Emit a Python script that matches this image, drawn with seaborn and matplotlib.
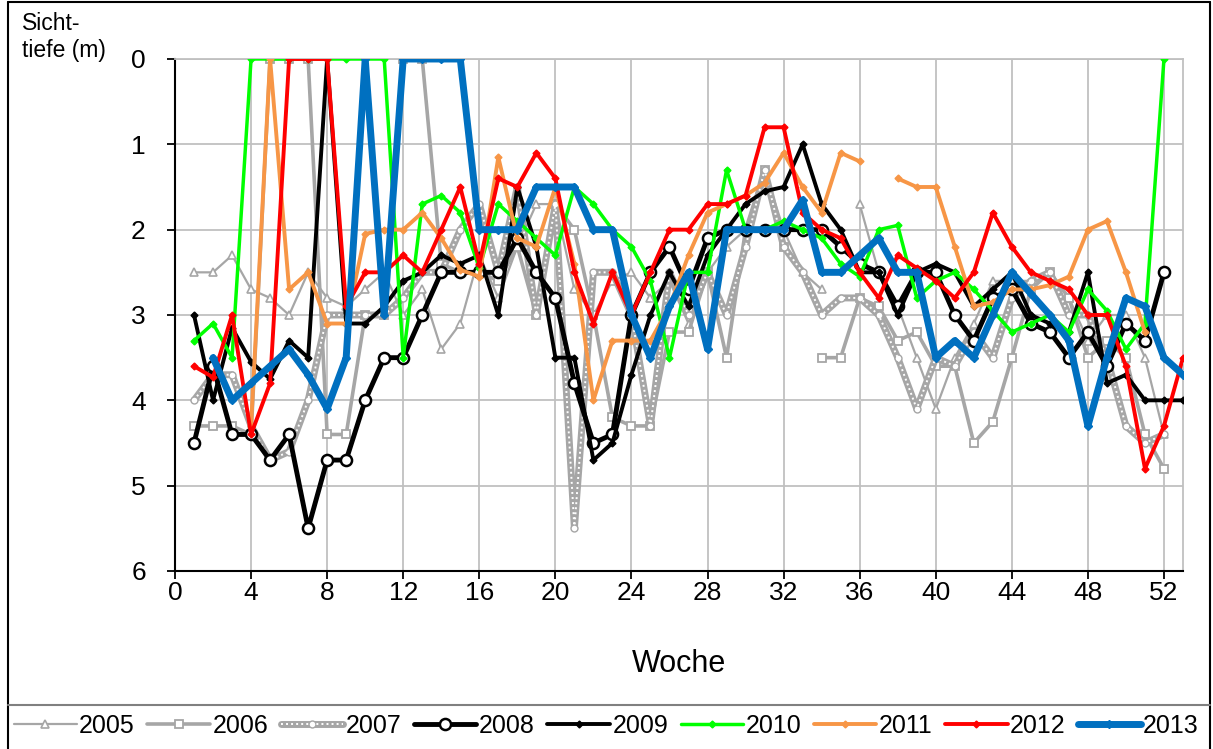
import numpy as np
import pandas as pd
import seaborn as sns
import matplotlib.pyplot as plt
from matplotlib.lines import Line2D
from matplotlib.legend_handler import HandlerTuple

nan = np.nan
weeks = list(range(1, 54))

# Sichttiefe (m) je Kalenderwoche, 0 = Eis / Grund sichtbar
d2005 = [2.5, 2.5, 2.3, 2.7, 2.8, 3.0, 2.5, 2.8, 2.9, 2.7, 2.5, 3.0, 2.7, 3.4, 3.1, 2.3, 2.8, 2.2, 1.7, 1.7,
         2.7, 3.0, 2.6, 2.5, 2.8, 2.6, 3.1, 2.5, 2.2, 2.0, 1.3, 2.0, 2.5, 2.7, nan, 1.7, 2.5, 2.9, 3.5, 4.1,
         3.5, 3.1, 2.6, 2.6, 2.6, 2.5, 2.8, 3.3, 3.0, 3.0, 3.5, 4.4, nan]
d2006 = [4.3, 4.3, 4.3, 4.4, 0, 0, 0, 4.4, 4.4, 3.0, 3.0, 0, 0, 2.4, 2.5, 2.5, 2.6, 2.2, 3.0, 1.7,
         2.0, 3.0, 4.2, 4.3, 4.3, 3.2, 3.2, 2.5, 3.5, 2.0, 1.3, 2.2, nan, 3.5, 3.5, 2.8, 2.9, 3.3, 3.2, 3.6,
         3.6, 4.5, 4.25, 3.5, 2.7, 2.5, 2.8, 3.5, 3.3, 3.5, 4.4, 4.8, nan]
d2007 = [4.0, 3.7, 3.7, 4.3, 4.7, 4.6, 4.0, 3.0, 3.0, 3.0, 3.0, 2.8, 2.5, 2.5, 2.0, 1.7, 2.5, 1.5, 3.0, 1.7,
         5.5, 2.5, 2.5, 3.0, 4.3, 2.5, 3.0, 2.5, 3.0, 2.2, 1.3, 2.2, 2.5, 3.0, 2.8, 2.8, 3.0, 3.5, 4.1, 3.5,
         3.6, 3.2, 3.5, 2.8, 2.6, 2.5, 3.0, 3.0, 3.5, 4.3, 4.5, 4.4, nan]
d2008 = [4.5, 3.6, 4.4, 4.4, 4.7, 4.4, 5.5, 4.7, 4.7, 4.0, 3.5, 3.5, 3.0, 2.5, 2.5, 2.5, 2.5, 2.1, 2.5, 2.8,
         3.8, 4.5, 4.4, 3.0, 2.5, 2.2, 2.7, 2.1, 2.0, 2.0, 2.0, 2.0, 2.0, 2.0, 2.2, 2.4, 2.5, 2.9, 2.5, 2.5,
         3.0, 3.3, 2.8, 2.7, 3.1, 3.2, 3.5, 3.2, 3.6, 3.1, 3.3, 2.5, nan]
d2009 = [3.0, 4.0, 3.15, 3.55, 3.75, 3.3, 3.5, 0, 3.1, 3.1, 2.9, 2.6, 2.5, 2.3, 2.4, 2.3, 3.0, 1.5, 2.2, 3.5,
         3.5, 4.7, 4.5, 3.7, 3.0, 2.5, 2.9, 2.3, 2.0, 1.7, 1.55, 1.5, 1.0, 1.7, 2.0, 2.5, 2.5, 3.0, 2.5, 2.4,
         2.5, 2.9, 2.7, 2.5, 3.0, 3.1, 3.2, 2.5, 3.8, 3.7, 4.0, 4.0, 4.0]
d2010 = [3.3, 3.1, 3.5, 0, 0, 0, 0, 0, 0, 0, 0, 3.5, 1.7, 1.6, 1.8, 2.45, 1.7, 1.9, 2.1, 2.3,
         1.5, 1.7, 2.0, 2.2, 2.6, 3.5, 2.5, 2.5, 1.3, 2.0, 2.0, 1.9, 2.0, 2.1, 2.4, 2.55, 2.0, 1.95, 2.8, 2.6,
         2.5, 2.7, 2.95, 3.2, 3.1, 3.0, 3.2, 2.7, 2.95, 3.4, 3.1, 0, nan]
d2011 = [nan, nan, nan, 4.3, 0, 2.7, 2.5, 3.1, 3.1, 2.05, 2.0, 2.0, 1.8, 2.1, 2.47, 2.55, 1.15, 2.1, 2.2, 1.5,
         2.4, 4.0, 3.3, 3.3, 3.3, 2.9, 2.3, 1.8, 1.7, 1.6, 1.45, 1.1, 1.5, 1.8, 1.1, 1.2, nan, 1.4, 1.5, 1.5,
         2.2, 2.9, 2.85, 2.7, 2.7, 2.65, 2.55, 2.0, 1.9, 2.5, 3.2, nan, nan]
d2012 = [3.6, 3.73, 3.0, 4.4, 3.8, 0, 0, 0, 2.9, 2.5, 2.5, 2.3, 2.5, 2.0, 1.5, 2.4, 1.4, 1.5, 1.1, 1.4,
         2.5, 3.1, 2.5, 3.0, 2.5, 2.0, 2.0, 1.7, 1.7, 1.6, 0.8, 0.8, 1.8, 2.0, 2.1, 2.5, 2.8, 2.3, 2.45, 2.6,
         2.8, 2.5, 1.8, 2.2, 2.5, 2.6, 2.7, 3.0, 3.0, 3.6, 4.8, 4.3, 3.5]
d2013 = [nan, 3.5, 4.0, 3.8, 3.6, 3.4, 3.7, 4.1, 3.5, 0, 3.0, 0, 0, 0, 0, 2.0, 2.0, 2.0, 1.5, 1.5,
         1.5, 2.0, 2.0, 3.0, 3.5, 2.9, 2.5, 3.4, 2.0, 2.0, 2.0, 2.0, 1.65, 2.5, 2.5, 2.3, 2.1, 2.5, 2.5, 3.5,
         3.3, 3.5, 3.0, 2.5, 2.75, 3.0, 3.3, 4.3, 3.5, 2.8, 2.9, 3.5, 3.7]

years = ['2005', '2006', '2007', '2008', '2009', '2010', '2011', '2012', '2013']
series = [d2005, d2006, d2007, d2008, d2009, d2010, d2011, d2012, d2013]

gray = '#a6a6a6'
styles = {
    '2005': dict(color=gray, lw=1.6, marker='^', ms=6, mfc='white', mec=gray, mew=1.2),
    '2006': dict(color=gray, lw=2.6, marker='s', ms=6, mfc='white', mec=gray, mew=1.3),
    '2007': dict(color=gray, lw=5.0, marker='o', ms=5, mfc='white', mec=gray, mew=1.0),
    '2008': dict(color='black', lw=3.5, marker='o', ms=8, mfc='white', mec='black', mew=1.8),
    '2009': dict(color='black', lw=2.8, marker='D', ms=3.5, mfc='black', mec='black'),
    '2010': dict(color='#00ff00', lw=2.5, marker='D', ms=3.5, mfc='#00ff00', mec='#00ff00'),
    '2011': dict(color='#f79646', lw=2.8, marker='D', ms=3.5, mfc='#f79646', mec='#f79646'),
    '2012': dict(color='#ff0000', lw=2.8, marker='D', ms=3.5, mfc='#ff0000', mec='#ff0000'),
    '2013': dict(color='#0070c0', lw=5.0, marker='D', ms=4, mfc='#0070c0', mec='#0070c0'),
}

rows = []
for y, vals in zip(years, series):
    seg = 0
    for w, v in zip(weeks, vals):
        if np.isnan(v):
            seg += 1
            continue
        rows.append({'year': y, 'week': w, 'depth': v, 'seg': seg})
df = pd.DataFrame(rows)

sns.set_style('white')
plt.rcParams['font.family'] = ['Liberation Sans', 'DejaVu Sans']
plt.rcParams['text.color'] = 'black'
plt.rcParams['axes.labelcolor'] = 'black'
plt.rcParams['xtick.color'] = 'black'
plt.rcParams['ytick.color'] = 'black'

fig = plt.figure(figsize=(12.13, 7.49), dpi=100)
ax = fig.add_axes([175 / 1213, 1 - 571 / 749, (1183 - 175) / 1213, (571 - 59) / 749])

for y in years:
    st = styles[y]
    sns.lineplot(data=df[df.year == y], x='week', y='depth', units='seg', estimator=None,
                 sort=False, legend=False, ax=ax, color=st['color'], linewidth=st['lw'],
                 marker=st['marker'], markersize=st['ms'], markerfacecolor=st['mfc'],
                 markeredgecolor=st['mec'], markeredgewidth=st.get('mew', 1), zorder=3)
    if y == '2007':
        # dotted look of the 2007 line
        sns.lineplot(data=df[df.year == y], x='week', y='depth', units='seg', estimator=None,
                     sort=False, legend=False, ax=ax, color='white', linewidth=1.4,
                     linestyle=(0, (1, 1.6)), zorder=3)

ax.set_xlim(0, 53)
ax.set_ylim(6, 0)
ax.set_xticks(range(0, 53, 4))
ax.set_yticks(range(0, 7))
ax.grid(True, color='#c0c0c0', lw=1.3)
ax.set_axisbelow(True)
for s in ['top', 'right']:
    ax.spines[s].set_color('#c0c0c0')
    ax.spines[s].set_linewidth(1.3)
for s in ['left', 'bottom']:
    ax.spines[s].set_color('black')
    ax.spines[s].set_linewidth(1.5)
ax.tick_params(axis='both', direction='out', length=6, width=1.3, color='black',
               labelcolor='black', labelsize=19, left=True, bottom=True)
ax.tick_params(axis='y', pad=15)
ax.tick_params(axis='x', pad=1)
ax.set_xlabel('Woche', fontsize=22, labelpad=32, color='black')
ax.set_ylabel('')
fig.text(22 / 1213, 1 - 12 / 749, 'Sicht-\ntiefe (m)', fontsize=16.5, va='top', ha='left',
         linespacing=1.2, color='black')

# legend
handles = []
for y in years:
    st = styles[y]
    h = Line2D([], [], color=st['color'], lw=st['lw'], marker=st['marker'], markersize=st['ms'],
               markerfacecolor=st['mfc'], markeredgecolor=st['mec'], markeredgewidth=st.get('mew', 1))
    if y == '2007':
        h = (h, Line2D([], [], color='white', lw=1.4, linestyle=(0, (1, 1.6))))
    handles.append(h)
leg = fig.legend(handles, years, loc='center', bbox_to_anchor=(0.5, 1 - 726 / 749), ncol=9,
                 frameon=False, fontsize=18, handlelength=2.5, handletextpad=0.1, columnspacing=0.5,
                 handler_map={tuple: HandlerTuple(ndivide=1, pad=0)})
for t in leg.get_texts():
    t.set_color('black')

# outer frames
fig.add_artist(plt.Line2D([8 / 1213, 8 / 1213], [0, 1 - 2 / 749], transform=fig.transFigure,
                          color='black', lw=1.5))
fig.add_artist(plt.Line2D([1210 / 1213, 1210 / 1213], [0, 1 - 2 / 749], transform=fig.transFigure,
                          color='black', lw=1.5))
fig.add_artist(plt.Line2D([8 / 1213, 1210 / 1213], [1 - 2 / 749, 1 - 2 / 749], transform=fig.transFigure,
                          color='black', lw=1.5))
fig.add_artist(plt.Line2D([8 / 1213, 1210 / 1213], [1 - 705 / 749, 1 - 705 / 749],
                          transform=fig.transFigure, color='#808080', lw=1.5))

fig.savefig('out.png', dpi=100, facecolor='white')
